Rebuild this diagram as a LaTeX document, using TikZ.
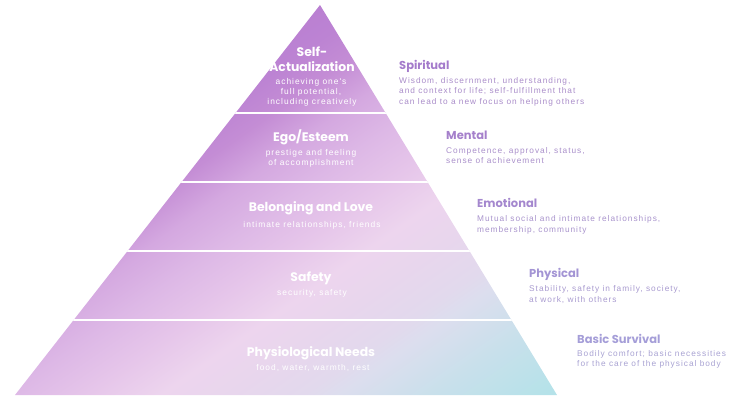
\documentclass[tikz,border=0pt]{standalone}
\usepackage{fontspec}
\setmainfont{Liberation Sans}
\newfontfamily\headfont{Poppins}
\newfontfamily\bodyfont[LetterSpace=12]{Liberation Sans}
\definecolor{sA}{HTML}{B87CD1}
\definecolor{sB}{HTML}{BC83D3}
\definecolor{sC}{HTML}{C48DD5}
\definecolor{sD}{HTML}{D4A8E0}
\definecolor{sE}{HTML}{DDB8E6}
\definecolor{sF}{HTML}{E6C6EA}
\definecolor{sG}{HTML}{EDD5EE}
\definecolor{sH}{HTML}{E8D6ED}
\definecolor{sI}{HTML}{E2D9ED}
\definecolor{sJ}{HTML}{DCDEEE}
\definecolor{sK}{HTML}{C8E0EB}
\definecolor{sL}{HTML}{B5E2E9}
\definecolor{hOne}{HTML}{A47BCB}
\definecolor{bOne}{HTML}{A98CC9}
\definecolor{hTwo}{HTML}{A580CB}
\definecolor{bTwo}{HTML}{A98FCA}
\definecolor{hThree}{HTML}{A487CE}
\definecolor{bThree}{HTML}{A893CC}
\definecolor{hFour}{HTML}{A394D4}
\definecolor{bFour}{HTML}{A89ACF}
\definecolor{hFive}{HTML}{A59ED8}
\definecolor{bFive}{HTML}{A8A2D2}
\pgfdeclarehorizontalshading{pyrshade}{100bp}{color(0bp)=(sA); color(31bp)=(sA); color(37.6bp)=(sB); color(41.3bp)=(sC); color(45.5bp)=(sD); color(50bp)=(sE); color(55bp)=(sF); color(59.7bp)=(sG); color(64bp)=(sH); color(68.7bp)=(sI); color(71bp)=(sJ); color(77bp)=(sK); color(84bp)=(sL); color(100bp)=(sL)}
\begin{document}
\begin{tikzpicture}[x=1pt,y=-1pt,
  lhead/.style={anchor=base, text=white, inner sep=0pt, font=\headfont\bfseries\fontsize{12.4}{13}\selectfont},
  lbody/.style={anchor=base, text=white, inner sep=0pt, font=\bodyfont\fontsize{8.4}{10}\selectfont},
  rhead/.style={anchor=base west, inner sep=0pt, font=\headfont\bfseries\fontsize{11.5}{12}\selectfont},
  rbody/.style={anchor=base west, inner sep=0pt, font=\bodyfont\fontsize{8.3}{10}\selectfont},
  sep/.style={white, line width=1.4pt}
]
\useasboundingbox (0,0) rectangle (744,407);
\coordinate (apex) at (320,5);
\coordinate (bl) at (15,395);
\coordinate (br) at (557,395);
\shade[shading=pyrshade, shading angle=-55] (apex) -- (br) -- (bl) -- cycle;
\begin{scope}
  \clip (apex) -- (br) -- (bl) -- cycle;
  \foreach \yy in {113,182,251,320} \draw[sep] (0,\yy) -- (744,\yy);
\end{scope}
% left labels
\node[lhead] (l1a) at (312,56.5) {Self-};
\node[lhead] (l1b) at (312,71) {Actualization};
\node[lbody] (l1c) at (311,84) {achieving one's};
\node[lbody] (l1d) at (311,94) {full potential,};
\node[lbody] (l1e) at (312,104) {including creatively};
\node[lhead] (l2a) at (311,141) {Ego/Esteem};
\node[lbody] (l2b) at (311,155) {prestige and feeling};
\node[lbody] (l2c) at (311,165) {of accomplishment};
\node[lhead] (l3a) at (311,211) {Belonging and Love};
\node[lbody] (l3b) at (312,227) {intimate relationships, friends};
\node[lhead] (l4a) at (311,281) {Safety};
\node[lbody] (l4b) at (312,295) {security, safety};
\node[lhead] (l5a) at (311,356) {Physiological Needs};
\node[lbody] (l5b) at (313,370) {food, water, warmth, rest};
% right labels
\node[rhead, text=hOne] (r1a) at (399,69) {Spiritual};
\node[rbody, text=bOne] (r1b) at (399,83) {Wisdom, discernment, understanding,};
\node[rbody, text=bOne] (r1c) at (399,93.5) {and context for life; self-fulfillment that};
\node[rbody, text=bOne] (r1d) at (399,104) {can lead to a new focus on helping others};
\node[rhead, text=hTwo] (r2a) at (446,139) {Mental};
\node[rbody, text=bTwo] (r2b) at (446,153) {Competence, approval, status,};
\node[rbody, text=bTwo] (r2c) at (446,163.5) {sense of achievement};
\node[rhead, text=hThree] (r3a) at (477,207) {Emotional};
\node[rbody, text=bThree] (r3b) at (477,221.5) {Mutual social and intimate relationships,};
\node[rbody, text=bThree] (r3c) at (477,232) {membership, community};
\node[rhead, text=hFour] (r4a) at (529,277) {Physical};
\node[rbody, text=bFour] (r4b) at (529,291.5) {Stability, safety in family, society,};
\node[rbody, text=bFour] (r4c) at (529,302) {at work, with others};
\node[rhead, text=hFive] (r5a) at (577,343) {Basic Survival};
\node[rbody, text=bFive] (r5b) at (577,356) {Bodily comfort; basic necessities};
\node[rbody, text=bFive] (r5c) at (577,366.5) {for the care of the physical body};
\end{tikzpicture}
\end{document}
